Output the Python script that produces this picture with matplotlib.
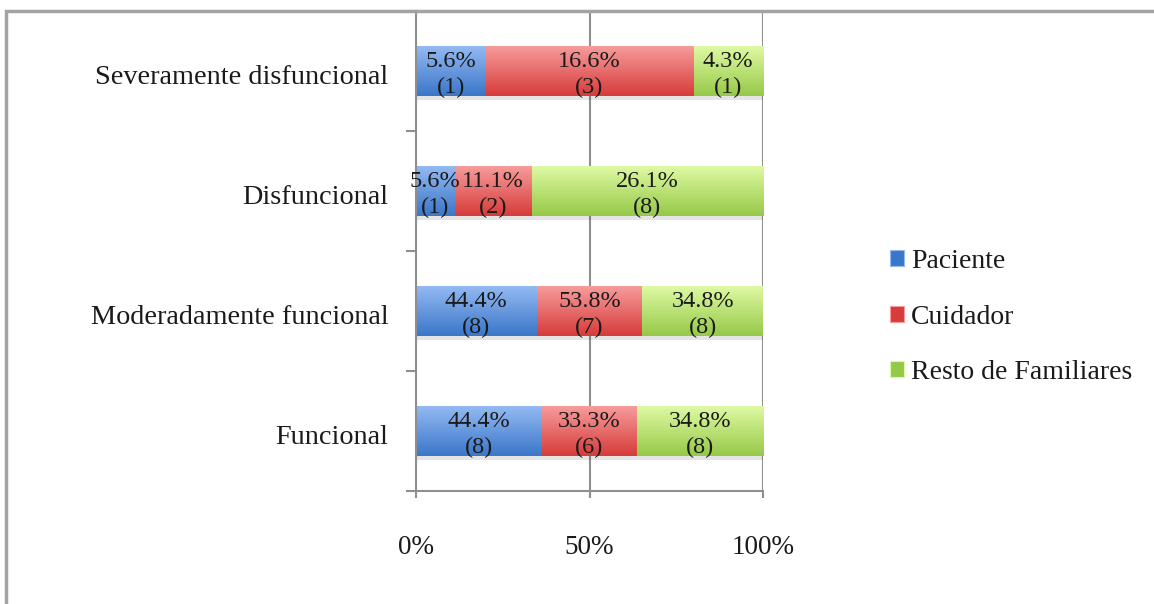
import numpy as np
import matplotlib
matplotlib.use("Agg")
import matplotlib.pyplot as plt
import matplotlib.transforms as mtransforms
from matplotlib.colors import LinearSegmentedColormap
from matplotlib.patches import Rectangle

# datos (de abajo hacia arriba)
categorias = ["Funcional", "Moderadamente funcional", "Disfuncional", "Severamente disfuncional"]
series = ["Paciente", "Cuidador", "Resto de Familiares"]

# número de casos que dan el ancho de cada segmento
paciente_n = [8, 8, 1, 1]
cuidador_n = [6, 7, 2, 3]
resto_n = [8, 8, 6, 1]

# etiquetas tal como aparecen en el gráfico
paciente_pct = ["44.4%", "44.4%", "5.6%", "5.6%"]
cuidador_pct = ["33.3%", "53.8%", "11.1%", "16.6%"]
resto_pct = ["34.8%", "34.8%", "26.1%", "4.3%"]
paciente_lbl = ["(8)", "(8)", "(1)", "(1)"]
cuidador_lbl = ["(6)", "(7)", "(2)", "(3)"]
resto_lbl = ["(8)", "(8)", "(8)", "(1)"]

xticks = [0, 50, 100]
xtick_labels = ["0%", "50%", "100%"]

# colores (oscuro abajo, claro arriba)
colores = [("#3b77c9", "#93b9f2"), ("#d63c3a", "#f79b9b"), ("#96c948", "#def9a3")]

plt.rcParams["font.family"] = ["Liberation Serif", "DejaVu Serif"]
texto = "#1a1a1a"
gris = "#8f8f8f"

fig = plt.figure(figsize=(11.54, 6.04), dpi=100)
W, H = 1154, 604
ax = fig.add_axes([416 / W, 1 - 491 / H, (763 - 416) / W, (491 - 11) / H])

n = np.array([paciente_n, cuidador_n, resto_n], dtype=float)
share = n / n.sum(axis=0) * 100
pcts = [paciente_pct, cuidador_pct, resto_pct]
lbls = [paciente_lbl, cuidador_lbl, resto_lbl]

y = np.arange(len(categorias))
alto = 0.41
izq = np.zeros(len(categorias))
grad = np.linspace(0, 1, 64).reshape(-1, 1)
for i, nombre in enumerate(series):
    cmap = LinearSegmentedColormap.from_list(nombre, colores[i])
    bars = ax.barh(y, share[i], left=izq, height=alto, color=colores[i][0],
                   label=nombre, zorder=2, linewidth=0)
    for j, b in enumerate(bars):
        x0, y0 = b.get_x(), b.get_y()
        x1, y1 = x0 + b.get_width(), y0 + b.get_height()
        # sombra
        ax.add_patch(Rectangle((x0, y0 - 0.035), x1 - x0, 0.035, color="#000000",
                               alpha=0.1, lw=0, zorder=1.5))
        im = ax.imshow(grad, extent=(x0, x1, y0, y1), origin="lower", aspect="auto",
                       cmap=cmap, zorder=2.1, interpolation="bilinear")
        im.set_clip_path(b)
        cx = x0 + (x1 - x0) / 2
        ax.text(cx, y[j] - 0.03, pcts[i][j] + "\n" + lbls[i][j], ha="center", va="center",
                fontsize=17.5, color=texto, zorder=5, linespacing=1.32)
    izq += share[i]

ax.set_xlim(0, 100)
ax.set_ylim(-0.5, len(categorias) - 0.5)

ax.set_xticks(xticks)
ax.set_xticklabels(xtick_labels, fontsize=19.5, color=texto)
ax.tick_params(axis="x", length=5, color=gris, width=1.5, pad=27)
ax.set_yticks(y)
ax.set_yticklabels(categorias, fontsize=20.3, color=texto)
ax.set_yticks(np.arange(-0.5, len(categorias) - 0.4, 1), minor=True)
ax.tick_params(axis="y", which="major", length=0, pad=20)
ax.tick_params(axis="y", which="minor", length=7, color=gris, width=1.5)
bajar = mtransforms.ScaledTranslation(0, -4 / 100, fig.dpi_scale_trans)
for lbl in ax.get_yticklabels():
    lbl.set_transform(lbl.get_transform() + bajar)

ax.grid(axis="x", color=gris, linewidth=1.5, zorder=0)
ax.set_axisbelow(True)
for s in ["top", "right"]:
    ax.spines[s].set_visible(False)
for s in ["left", "bottom"]:
    ax.spines[s].set_color(gris)
    ax.spines[s].set_linewidth(1.5)

# leyenda
handles = [Rectangle((0, 0), 1, 1, facecolor=c[0], edgecolor=c[1], lw=0.8) for c in colores]
fig.legend(handles, series, loc="center left", bbox_to_anchor=(865 / W, 1 - 317 / H),
           frameon=False, fontsize=20, handlelength=0.5, handleheight=0.5,
           handletextpad=0.25, labelspacing=1.1, labelcolor=texto)

# marco
fig.add_artist(Rectangle((6 / W, -0.1), 1.2, 1.1 - 11 / H, transform=fig.transFigure,
                         fill=False, edgecolor="#a3a3a3", lw=2.5))

fig.savefig("out.png", dpi=100)
